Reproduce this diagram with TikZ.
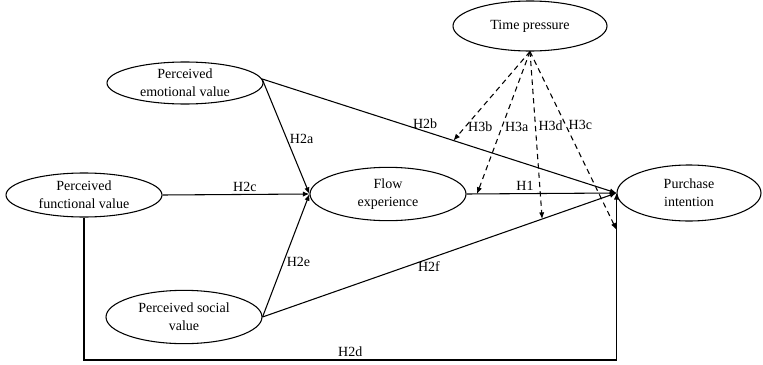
\documentclass[tikz,border=0pt]{standalone}
\usepackage{fontspec}
\setmainfont{Liberation Serif}
\usetikzlibrary{shapes.geometric,arrows.meta,calc}

\begin{document}
\begin{tikzpicture}[x=0.75pt,y=-0.75pt,
  construct/.style={draw,ellipse,line width=0.8pt,align=center,inner sep=0pt,
    font=\fontsize{10.5}{13.5}\selectfont},
  hyp/.style={line width=0.8pt,-{Latex[length=5pt,width=4pt]}},
  moder/.style={hyp,dashed,dash pattern=on 4pt off 3pt},
  hlabel/.style={font=\fontsize{10.5}{12}\selectfont,inner sep=2pt}]

  \useasboundingbox (0,0) rectangle (763,364);

  % constructs
  \node[construct,minimum width=115.5pt,minimum height=37.5pt] (tp) at (530,26) {Time pressure};
  \node[construct,minimum width=117pt,minimum height=31.5pt] (emo) at (185,83) {Perceived\\emotional value};
  \node[construct,minimum width=117pt,minimum height=33pt] (fun) at (84,195) {Perceived\\functional value};
  \node[construct,minimum width=117pt,minimum height=40pt] (flow) at (388,194) {Flow\\experience};
  \node[construct,minimum width=108pt,minimum height=42pt] (pi) at (689,193) {Purchase\\intention};
  \node[construct,minimum width=117pt,minimum height=40pt] (soc) at (184,317) {Perceived social\\value};

  % direct paths
  \draw[hyp] (emo.3) -- node[hlabel,pos=0.52,right] {H2a} (flow.west);
  \draw[hyp] (fun.east) -- node[hlabel,pos=0.56,above] {H2c} (flow.west);
  \draw[hyp] (soc.east) -- node[hlabel,pos=0.45,right] {H2e} (flow.west);
  \draw[hyp] (flow.east) -- node[hlabel,pos=0.39,above] {H1} (pi.west);
  \draw[hyp] (emo.3) -- node[hlabel,pos=0.46,above] {H2b} (pi.west);
  \draw[hyp] (soc.east) -- node[hlabel,pos=0.47,below] {H2f} (pi.west);
  \path (pi.west) ++(0,167) coordinate (dcorner);
  \draw[hyp] (fun.south) |- node[hlabel,pos=0.75,above] {H2d} (dcorner) -- (pi.west);

  % moderation targets
  \coordinate (t2b) at ($(emo.3)!0.54!(pi.west)$);
  \coordinate (t1) at ($(flow.east)!0.07!(pi.west)$);
  \coordinate (t2f) at ($(soc.east)!0.79!(pi.west)$);
  \coordinate (t2d) at ($(pi.west)!0.22!(dcorner)$);

  \draw[moder] (tp.south) -- node[hlabel,pos=0.85,right] {H3b} (t2b);
  \draw[moder] (tp.south) -- node[hlabel,pos=0.53,right] {H3a} (t1);
  \draw[moder] (tp.south) -- node[hlabel,pos=0.44,right] {H3d} (t2f);
  \draw[moder] (tp.south) -- node[hlabel,pos=0.41,right] {H3c} (t2d);
\end{tikzpicture}
\end{document}
